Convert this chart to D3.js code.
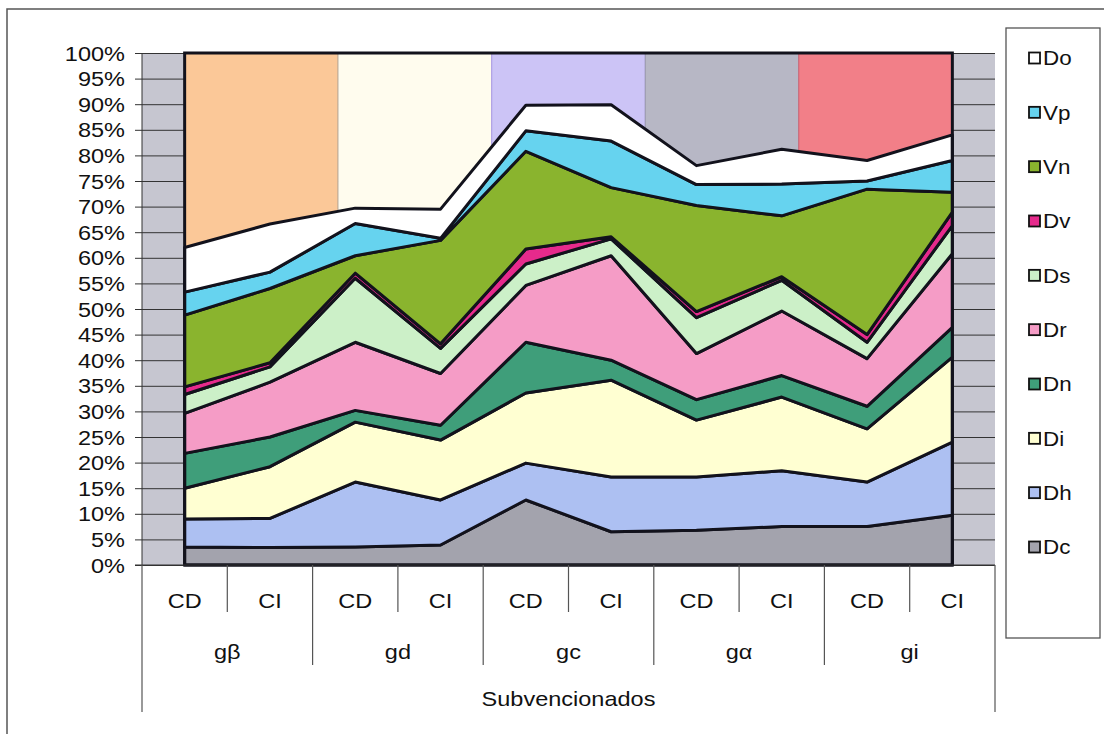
<!DOCTYPE html>
<html>
<head>
<meta charset="utf-8">
<script src="https://cdn.jsdelivr.net/npm/d3@7"></script>
<style>
  html, body { margin: 0; padding: 0; background: #ffffff; }
  svg { display: block; font-family: "Liberation Sans", Arial, sans-serif; }
</style>
</head>
<body>
<svg id="chart" width="1104" height="734"></svg>
<script>
// ---- data (percent of total) ----
const categories = ["CD","CI","CD","CI","CD","CI","CD","CI","CD","CI"];
const groups = ["gβ","gd","gc","gα","gi"];
const superGroup = "Subvencionados";
const seriesNames = ["Dc","Dh","Di","Dn","Dr","Ds","Dv","Vn","Vp","Do"];

const Dc = [3.5, 3.4, 3.5, 3.9, 12.7, 6.5, 6.8, 7.5, 7.5, 9.7];
const Dh = [5.5, 5.7, 12.7, 8.8, 7.2, 10.7, 10.4, 10.9, 8.7, 14.3];
const Di = [6.0, 10.1, 11.7, 11.7, 13.7, 18.9, 11.1, 14.4, 10.4, 16.6];
const Dn = [6.8, 5.8, 2.3, 2.9, 9.9, 3.9, 4.0, 4.2, 4.4, 5.8];
const Dr = [7.8, 10.7, 13.3, 10.1, 11.1, 20.4, 9.0, 12.6, 9.3, 14.4];
const Ds = [3.7, 3.0, 12.5, 4.9, 4.2, 3.3, 7.0, 6.0, 3.2, 5.5];
const Dv = [1.5, 0.8, 1.0, 0.9, 2.9, 0.4, 1.2, 0.7, 1.5, 2.6];
const Vn = [14.0, 14.5, 3.4, 20.2, 19.1, 9.6, 20.7, 11.9, 28.4, 3.9];
const Vp = [4.5, 3.2, 6.3, 0.4, 4.0, 9.1, 4.1, 6.2, 1.6, 6.2];
const Do = [8.7, 9.4, 3.0, 5.7, 5.0, 7.1, 3.7, 6.8, 4.0, 5.0];

const yTickValues = [0,5,10,15,20,25,30,35,40,45,50,55,60,65,70,75,80,85,90,95,100];

const seriesColors = {
  Dc: "#a3a3ad", Dh: "#adc0f2", Di: "#ffffd2", Dn: "#3f9e7a", Dr: "#f59cc6",
  Ds: "#ccf0c8", Dv: "#e62a8c", Vn: "#8ab42e", Vp: "#66d3ef", Do: "#ffffff"
};
const bandColors = ["#fbc898", "#fffcee", "#ccc4f6", "#b7b7c5", "#f27f88"];
const bandBorders = ["#6a5a50", "#d8d0c0", "#a898e8", "#9a9aaa", "#d06070"];

// ---- build table ----
const valueArrays = {Dc, Dh, Di, Dn, Dr, Ds, Dv, Vn, Vp, Do};
const table = categories.map((c, i) => {
  const row = {idx: i};
  seriesNames.forEach(s => row[s] = valueArrays[s][i]);
  return row;
});

const svg = d3.select("#chart");
const stretch = 1.12;
function txt(g, x, y, s, anchor, size) {
  return g.append("text")
    .attr("transform", `translate(${x},${y}) scale(${stretch},1)`)
    .attr("text-anchor", anchor)
    .attr("dy", "0.36em")
    .attr("font-size", size)
    .attr("fill", "#111")
    .text(s);
}

// outer frame
svg.append("rect").attr("x", 7).attr("y", 9).attr("width", 1120).attr("height", 740)
  .attr("fill", "none").attr("stroke", "#555").attr("stroke-width", 1.5);

// plot geometry
const plotL = 142, plotR = 995, plotT = 53, plotB = 565;
const x = d3.scalePoint().domain(d3.range(categories.length)).range([plotL, plotR]).padding(0.5);
const y = d3.scaleLinear().domain([0, 100]).range([plotB, plotT]);

// plot background
svg.append("rect").attr("x", plotL).attr("y", plotT).attr("width", plotR - plotL).attr("height", plotB - plotT)
  .attr("fill", "#c6c6d0");

// gridlines + ticks
const yAxis = d3.axisLeft(y).tickValues(yTickValues).tickFormat(d => d + "%").tickSize(-(plotR - plotL));
const gy = svg.append("g").attr("transform", `translate(${plotL},0)`).call(yAxis);
gy.select(".domain").remove();
gy.selectAll(".tick line").attr("stroke", "#333").attr("stroke-width", 1).attr("x1", -7);
gy.selectAll(".tick text").remove();
yTickValues.forEach(v => txt(svg, 125, y(v), v + "%", "end", 21));

// background bands
const xFirst = x(0), xLast = x(categories.length - 1);
const bandX = d3.scaleBand().domain(groups).range([xFirst, xLast]).padding(0);
svg.append("g").selectAll("rect").data(groups).join("rect")
  .attr("x", d => bandX(d)).attr("y", plotT)
  .attr("width", bandX.bandwidth()).attr("height", plotB - plotT)
  .attr("fill", (d, i) => bandColors[i])
  .attr("stroke", (d, i) => bandBorders[i]).attr("stroke-width", 1);

// stacked areas
const stack = d3.stack().keys(seriesNames);
const layers = stack(table);
const area = d3.area()
  .x(d => x(d.data.idx))
  .y0(d => y(d[0]))
  .y1(d => y(d[1]));
svg.append("g").selectAll("path").data(layers).join("path")
  .attr("d", area)
  .attr("fill", d => seriesColors[d.key])
  .attr("stroke", "#12121c").attr("stroke-width", 3).attr("stroke-linejoin", "round");

// frame around band/area region
svg.append("rect").attr("x", xFirst).attr("y", plotT).attr("width", xLast - xFirst).attr("height", plotB - plotT)
  .attr("fill", "none").attr("stroke", "#12121c").attr("stroke-width", 3);

// axes lines
svg.append("line").attr("x1", plotL).attr("x2", plotL).attr("y1", plotT).attr("y2", plotB).attr("stroke", "#333").attr("stroke-width", 1);
svg.append("line").attr("x1", plotL - 7).attr("x2", plotR).attr("y1", plotB).attr("y2", plotB).attr("stroke", "#333").attr("stroke-width", 1.2);

// hierarchical category axis
const step = x.step();
const gx = svg.append("g");
categories.forEach((c, i) => {
  txt(gx, x(i), 600, c, "middle", 21);
  const bx = x(i) + step / 2;
  if (i < categories.length - 1) {
    const isGroupEdge = (i % 2 === 1);
    gx.append("line").attr("x1", bx).attr("x2", bx).attr("y1", plotB).attr("y2", isGroupEdge ? 665 : 612)
      .attr("stroke", "#555").attr("stroke-width", 1.2);
  }
});
[plotL, plotR].forEach(px => {
  gx.append("line").attr("x1", px).attr("x2", px).attr("y1", plotB).attr("y2", 712)
    .attr("stroke", "#555").attr("stroke-width", 1.2);
});
groups.forEach((g, k) => {
  const cx = (x(2 * k) + x(2 * k + 1)) / 2;
  txt(gx, cx, 651, g, "middle", 21);
});
txt(gx, (plotL + plotR) / 2, 698, superGroup, "middle", 21);

// legend
const lg = svg.append("g");
lg.append("rect").attr("x", 1006).attr("y", 28).attr("width", 94).attr("height", 610)
  .attr("fill", "#fff").attr("stroke", "#555").attr("stroke-width", 1.3);
const legendOrder = seriesNames.slice().reverse();
const ly = d3.scalePoint().domain(legendOrder).range([58, 547]);
legendOrder.forEach(s => {
  lg.append("rect").attr("x", 1029).attr("y", ly(s) - 5.5).attr("width", 11).attr("height", 11)
    .attr("fill", seriesColors[s]).attr("stroke", "#111").attr("stroke-width", 1.8);
  txt(lg, 1043, ly(s), s, "start", 20);
});
</script>
</body>
</html>
